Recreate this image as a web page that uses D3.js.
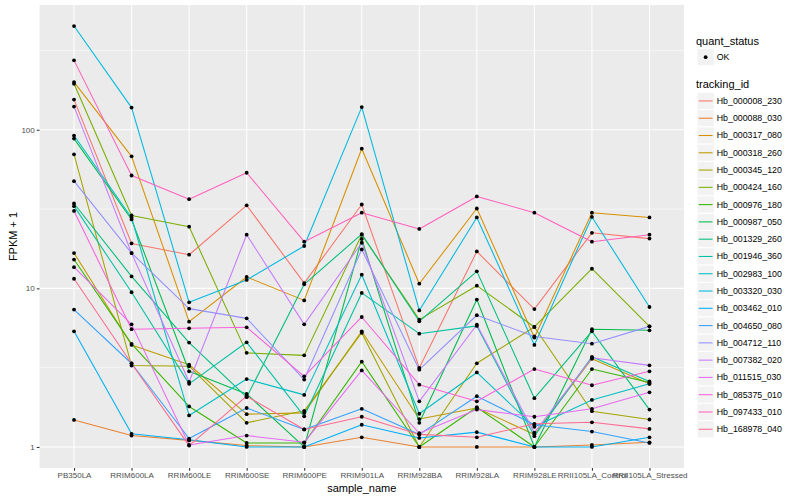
<!doctype html>
<html lang="en">

<head>
    <meta charset="utf-8">
    <title>FPKM by sample</title>
    <style>
        body {
            margin: 0;
            background-color: white;
            font-family: 'Liberation Sans', Arial, sans-serif;
        }

        .tick-label {
            fill: #4d4d4d;
            font-size: 8px;
        }

        .axis-title,
        .legend-title {
            fill: #000;
            font-size: 11px;
        }

        .legend-text {
            fill: #000;
            font-size: 8.8px;
        }
    </style>
</head>

<body>
    <svg id="chart"></svg>
    <script src="https://d3js.org/d3.v7.min.js"></script>
    <script>

        var samples = ["PB350LA", "RRIM600LA", "RRIM600LE", "RRIM600SE", "RRIM600PE", "RRIM901LA",
            "RRIM928BA", "RRIM928LA", "RRIM928LE", "RRII105LA_Control", "RRII105LA_Stressed"];

        var trackingIds = ["Hb_000008_230", "Hb_000088_030", "Hb_000317_080", "Hb_000318_260",
            "Hb_000345_120", "Hb_000424_160", "Hb_000976_180", "Hb_000987_050", "Hb_001329_260",
            "Hb_001946_360", "Hb_002983_100", "Hb_003320_030", "Hb_003462_010", "Hb_004650_080",
            "Hb_004712_110", "Hb_007382_020", "Hb_011515_030", "Hb_085375_010", "Hb_097433_010",
            "Hb_168978_040"];

        // FPKM + 1, one row per tracking_id, one value per sample
        var fpkm = [
            [155, 19.2, 16.3, 33.4, 10.8, 33.8, 3.15, 17.1, 7.4, 22.4, 20.6],
            [1.48, 1.18, 1.1, 1.02, 1.0, 1.15, 1.0, 1.0, 1.0, 1.03, 1.07],
            [200, 68, 6.17, 11.8, 8.4, 76, 10.7, 31.9, 4.9, 30, 28],
            [16.7, 4.4, 3.3, 1.61, 1.64, 5.36, 1.5, 1.76, 1.2, 3.6, 2.5],
            [70, 3.26, 3.23, 1.42, 1.69, 5.25, 1.0, 3.37, 5.71, 1.68, 1.49],
            [195, 28.8, 24.5, 3.92, 3.78, 21.8, 6.35, 10.4, 5.71, 13.3, 5.76],
            [15.2, 4.47, 1.8, 1.06, 1.06, 3.45, 1.0, 1.78, 1.0, 3.1, 2.55],
            [88, 27.2, 3.0, 2.16, 1.0, 20.5, 1.42, 8.5, 1.0, 5.53, 5.44],
            [34.3, 11.9, 4.55, 2.06, 10.6, 22.0, 6.2, 12.8, 2.03, 5.36, 1.72],
            [33, 9.45, 2.5, 4.57, 1.56, 9.36, 5.18, 5.8, 1.17, 3.7, 2.59],
            [92, 27.9, 1.58, 2.68, 2.13, 12.2, 1.62, 2.95, 1.34, 1.98, 2.5],
            [451, 138, 8.17, 11.3, 18.5, 139, 7.26, 28, 4.4, 28.2, 7.63],
            [5.36, 1.21, 1.11, 1.0, 1.0, 1.38, 1.14, 1.24, 1.0, 1.0, 1.15],
            [7.35, 3.36, 1.13, 1.76, 1.29, 1.74, 1.2, 2.09, 1.38, 1.25, 1.06],
            [47.4, 16.7, 7.45, 6.47, 2.66, 17.6, 3.07, 6.77, 4.97, 4.48, 5.76],
            [140, 16.7, 2.57, 21.8, 5.93, 19.4, 1.94, 5.9, 1.23, 3.65, 3.27],
            [13.6, 5.93, 1.03, 1.18, 1.07, 3.04, 1.22, 1.72, 1.55, 1.74, 2.21],
            [30.8, 5.53, 5.6, 5.68, 2.79, 6.6, 2.47, 1.94, 3.1, 2.45, 3.0],
            [274, 51.5, 36.5, 53.6, 19.7, 30, 23.7, 38, 30, 19.7, 21.8],
            [11.5, 3.36, 1.02, 2.09, 1.29, 1.55, 1.2, 1.15, 1.4, 1.43, 1.3]
        ];

        var quantStatus = ["OK"];

        var yBreaks = [1, 10, 100];
        var yMinorBreaks = [Math.pow(10, 0.5), Math.pow(10, 1.5), Math.pow(10, 2.5)];

        // ggplot2 default hue palette for 20 levels
        var palette = ["#F8766D", "#EA8331", "#D89000", "#C09B00", "#A3A500", "#7CAE00", "#39B600",
            "#00BB4E", "#00BF7D", "#00C1A3", "#00BFC4", "#00BAE0", "#00B0F6", "#35A2FF", "#9590FF",
            "#C77CFF", "#E76BF3", "#FA62DB", "#FF62BC", "#FF6C91"];

        var svgWidth = 800, svgHeight = 500;
        var panel = { left: 39.5, right: 684, top: 5, bottom: 468 };

        var svg = d3.select("#chart")
            .attr("width", svgWidth)
            .attr("height", svgHeight);

        var x = d3.scalePoint()
            .domain(samples)
            .range([panel.left, panel.right])
            .padding(0.6);

        // log10 scale with ggplot-style 5% expansion
        var all = d3.merge(fpkm);
        var lo = Math.log10(d3.min(all)), hi = Math.log10(d3.max(all));
        var pad = (hi - lo) * 0.05;
        var y = d3.scaleLog()
            .domain([Math.pow(10, lo - pad), Math.pow(10, hi + pad)])
            .range([panel.bottom, panel.top]);

        var color = d3.scaleOrdinal().domain(trackingIds).range(palette);

        // panel background
        svg.append("rect")
            .attr("x", panel.left)
            .attr("y", panel.top)
            .attr("width", panel.right - panel.left)
            .attr("height", panel.bottom - panel.top)
            .attr("fill", "#EBEBEB");

        var grid = svg.append("g");

        grid.selectAll(".minor")
            .data(yMinorBreaks)
            .enter().append("line")
            .attr("x1", panel.left).attr("x2", panel.right)
            .attr("y1", function (d) { return y(d) })
            .attr("y2", function (d) { return y(d) })
            .attr("stroke", "white")
            .attr("stroke-width", 0.53);

        grid.selectAll(".major-y")
            .data(yBreaks)
            .enter().append("line")
            .attr("x1", panel.left).attr("x2", panel.right)
            .attr("y1", function (d) { return y(d) })
            .attr("y2", function (d) { return y(d) })
            .attr("stroke", "white")
            .attr("stroke-width", 1.07);

        grid.selectAll(".major-x")
            .data(samples)
            .enter().append("line")
            .attr("y1", panel.top).attr("y2", panel.bottom)
            .attr("x1", function (d) { return x(d) })
            .attr("x2", function (d) { return x(d) })
            .attr("stroke", "white")
            .attr("stroke-width", 1.07);

        // lines
        var line = d3.line()
            .x(function (d, i) { return x(samples[i]) })
            .y(function (d) { return y(d) });

        svg.append("g")
            .selectAll("path")
            .data(fpkm)
            .enter().append("path")
            .attr("fill", "none")
            .attr("stroke", function (d, i) { return color(trackingIds[i]) })
            .attr("stroke-width", 1.07)
            .attr("stroke-linejoin", "round")
            .attr("d", line);

        // points
        var points = [];
        fpkm.forEach(function (row) {
            row.forEach(function (v, j) { points.push({ sample: samples[j], value: v }) });
        });

        svg.append("g")
            .selectAll("circle")
            .data(points)
            .enter().append("circle")
            .attr("cx", function (d) { return x(d.sample) })
            .attr("cy", function (d) { return y(d.value) })
            .attr("r", 1.9)
            .attr("fill", "black");

        // axes
        var yAxis = svg.append("g")
            .attr("transform", "translate(" + panel.left + ",0)")
            .call(d3.axisLeft(y).tickValues(yBreaks).tickFormat(d3.format("d")).tickSize(2.74).tickPadding(2));
        yAxis.select(".domain").remove();
        yAxis.selectAll("line").attr("stroke", "#333333").attr("stroke-width", 1.07);
        yAxis.selectAll("text").attr("class", "tick-label").attr("font-family", null).attr("font-size", null).attr("fill", null);

        var xAxis = svg.append("g")
            .attr("transform", "translate(0," + panel.bottom + ")")
            .call(d3.axisBottom(x).tickSize(2.74).tickPadding(2));
        xAxis.select(".domain").remove();
        xAxis.selectAll("line").attr("stroke", "#333333").attr("stroke-width", 1.07);
        xAxis.selectAll("text").attr("class", "tick-label").attr("font-family", null).attr("font-size", null).attr("fill", null);

        svg.append("text")
            .attr("class", "axis-title")
            .attr("x", (panel.left + panel.right) / 2)
            .attr("y", 492)
            .attr("text-anchor", "middle")
            .text("sample_name");

        svg.append("text")
            .attr("class", "axis-title")
            .attr("transform", "translate(17," + (panel.top + panel.bottom) / 2 + ") rotate(-90)")
            .attr("text-anchor", "middle")
            .text("FPKM + 1");

        // legends
        var keySize = 17.28;
        var legendX = 697;

        var lg = svg.append("g");

        lg.append("text")
            .attr("class", "legend-title")
            .attr("x", 696)
            .attr("y", 44.5)
            .text("quant_status");

        var qs = lg.selectAll(".qs")
            .data(quantStatus)
            .enter().append("g")
            .attr("transform", function (d, i) { return "translate(" + legendX + "," + (48.5 + i * keySize) + ")" });
        qs.append("rect")
            .attr("width", keySize).attr("height", keySize)
            .attr("fill", "#F2F2F2").attr("stroke", "white");
        qs.append("circle")
            .attr("cx", keySize / 2).attr("cy", keySize / 2)
            .attr("r", 1.9).attr("fill", "black");
        qs.append("text")
            .attr("class", "legend-text")
            .attr("x", keySize + 2.5)
            .attr("y", keySize / 2 + 3)
            .text(function (d) { return d });

        lg.append("text")
            .attr("class", "legend-title")
            .attr("x", 696)
            .attr("y", 88)
            .text("tracking_id");

        var ti = lg.selectAll(".ti")
            .data(trackingIds)
            .enter().append("g")
            .attr("transform", function (d, i) { return "translate(" + legendX + "," + (92.3 + i * keySize) + ")" });
        ti.append("rect")
            .attr("width", keySize).attr("height", keySize)
            .attr("fill", "#F2F2F2").attr("stroke", "white");
        ti.append("line")
            .attr("x1", 1.7).attr("x2", keySize - 1.7)
            .attr("y1", keySize / 2).attr("y2", keySize / 2)
            .attr("stroke", function (d) { return color(d) })
            .attr("stroke-width", 1.07);
        ti.append("text")
            .attr("class", "legend-text")
            .attr("x", keySize + 2.5)
            .attr("y", keySize / 2 + 3)
            .text(function (d) { return d });
    </script>
</body>

</html>
